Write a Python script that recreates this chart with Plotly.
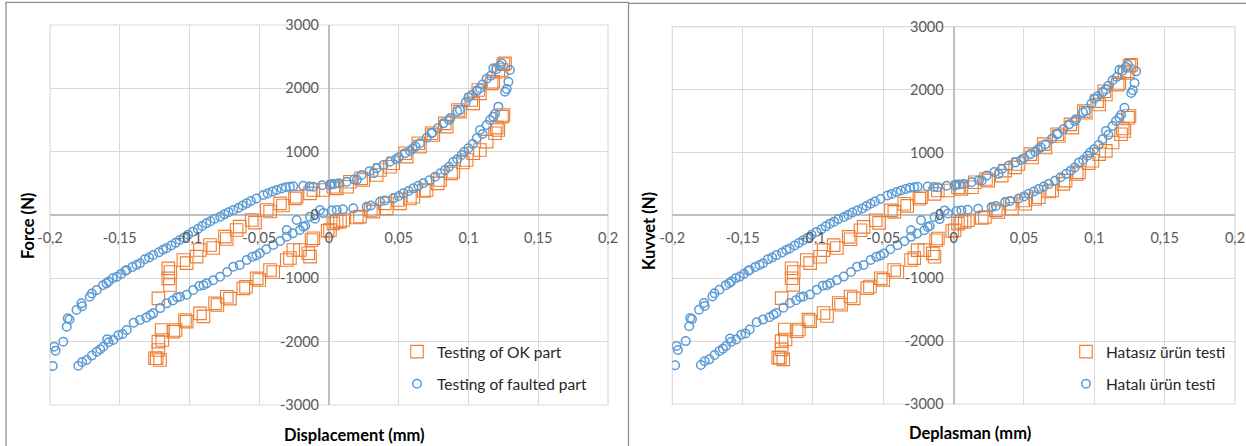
import plotly.graph_objects as go

# ---------------- data ----------------
ok_x = [-0.1223, -0.1140, -0.1152, -0.1152, -0.1137, -0.1044, -0.1020, -0.0949, -0.0925, -0.0853,
        -0.0830, -0.0746, -0.0733, -0.0662, -0.0640, -0.0554, -0.0530, -0.0446, -0.0422, -0.0351,
        -0.0330, -0.0232, -0.0244, -0.0112, -0.0136, -0.0041, 0.0031, 0.0055, 0.0130, 0.0150,
        0.0246, 0.0230, 0.0342, 0.0366, 0.0437, 0.0461, 0.0557, 0.0545, 0.0652, 0.0640,
        0.0748, 0.0736, 0.0844, 0.0830, 0.0939, 0.0925, 0.1034, 0.1020, 0.1082, 0.1070,
        0.1166, 0.1178, 0.1214, 0.1238, 0.1262, 0.1250,
        0.1250, 0.1240, 0.1214, 0.1202, 0.1190, 0.1130, 0.1082, 0.1034, 0.0987, 0.0960,
        0.0891, 0.0875, 0.0796, 0.0780, 0.0700, 0.0680, 0.0605, 0.0580, 0.0509, 0.0495,
        0.0414, 0.0400, 0.0318, 0.0300, 0.0222, 0.0200, 0.0102, 0.0079, 0.0031, 0.0055,
        0.0007, -0.0010, -0.0112, -0.0125, -0.0148, -0.0136, -0.0208, -0.0256, -0.0303, -0.0280,
        -0.0423, -0.0400, -0.0518, -0.0500, -0.0614, -0.0595, -0.0733, -0.0710, -0.0817, -0.0800,
        -0.0925, -0.0900, -0.1032, -0.1020, -0.1116, -0.1100, -0.1200, -0.1195, -0.1223, -0.1223,
        -0.1235, -0.1247, -0.1211]
ok_y = [-1316, -1105, -1000, -842, -900, -711, -760, -658, -553, -474,
        -520, -342, -380, -237, -184, -79, -120, 79, 55, 184,
        150, 289, 263, 395, 342, 395, 447, 421, 447, 526,
        553, 579, 632, 711, 763, 816, 921, 974, 1079, 1132,
        1263, 1290, 1395, 1447, 1632, 1658, 1763, 1816, 1921, 1974,
        2079, 2105, 2263, 2290, 2395, 2380,
        1579, 1553, 1342, 1380, 1290, 1158, 1026, 974, 868, 830,
        684, 658, 553, 500, 395, 380, 289, 260, 184, 237,
        105, 184, 53, 79, -26, -40, -79, -105, -132, -105,
        -237, -250, -368, -395, -605, -658, -553, -553, -711, -680,
        -868, -900, -1000, -1026, -1158, -1132, -1290, -1320, -1395, -1421,
        -1553, -1600, -1658, -1684, -1842, -1816, -1816, -1974, -2000, -2132,
        -2263, -2263, -2290]

faulted_x = [-0.1980, -0.1970, -0.1960, -0.1905, -0.1880, -0.1873, -0.1860, -0.1810, -0.1775, -0.1770,
             -0.1715, -0.1700, -0.1665, -0.1620, -0.1595, -0.1580, -0.1550, -0.1520, -0.1490, -0.1460,
             -0.1450, -0.1410, -0.1380, -0.1355, -0.1320, -0.1290, -0.1260, -0.1220, -0.1190, -0.1165,
             -0.1130, -0.1100, -0.1070, -0.1040, -0.1010, -0.0975, -0.0940, -0.0910, -0.0880, -0.0850,
             -0.0820, -0.0780, -0.0750, -0.0720, -0.0685, -0.0650, -0.0620, -0.0590, -0.0560, -0.0520,
             -0.0470, -0.0440, -0.0405, -0.0375, -0.0340, -0.0310, -0.0280, -0.0256, -0.0185, -0.0140,
             -0.0113, -0.0050, 0.0007, 0.0040, 0.0070, 0.0127, 0.0180, 0.0234, 0.0290, 0.0342,
             0.0390, 0.0437, 0.0500, 0.0545, 0.0600, 0.0652, 0.0700, 0.0736, 0.0780, 0.0820,
             0.0870, 0.0939, 0.0980, 0.1023, 0.1060, 0.1082, 0.1130, 0.1160, 0.1178, 0.1226,
             0.1238, 0.1297,
             0.0020, 0.0200, 0.0320, 0.0480, 0.0580, 0.0620, 0.0740, 0.0860, 0.0920, 0.1000,
             0.1100, 0.1200,
             0.1286, 0.1274, 0.1262, 0.1214, 0.1178, 0.1154, 0.1082, 0.1059, 0.0999, 0.0951,
             0.0891, 0.0832, 0.0760, 0.0676, 0.0605, 0.0533, 0.0461, 0.0366, 0.0270, 0.0174,
             0.0100, 0.0055, -0.0065, -0.0136, -0.0184, -0.0232, -0.0208, -0.0303, -0.0303, -0.0399,
             -0.0495, -0.0590, -0.0686, -0.0781, -0.0877, -0.0973, -0.1068, -0.1164, -0.1260, -0.1355,
             -0.1450, -0.1546, -0.1618, -0.1665, -0.1737, -0.1797,
             -0.0450, -0.0640, -0.0830, -0.1020, -0.1210, -0.1400, -0.1590, -0.1700,
             -0.1770, -0.1640, -0.1580, -0.1510, -0.1480, -0.1310, -0.1280, -0.1120, -0.1090, -0.0930,
             -0.0900, -0.0730, -0.0550, -0.0520, -0.0350, -0.0260, -0.0170, -0.0100, -0.0040, 0.0020,
             0.0300, 0.0400, 0.0500, 0.0570, 0.0640, 0.0720, 0.0800, 0.0860, 0.0920, 0.0970,
             0.1030, 0.1100, 0.1130, 0.1190]
faulted_y = [-2384, -2079, -2142, -2000, -1763, -1632, -1650, -1500, -1395, -1440,
             -1290, -1240, -1184, -1110, -1079, -1050, -1000, -974, -930, -880,
             -868, -820, -790, -763, -700, -670, -632, -590, -550, -526,
             -480, -440, -395, -360, -310, -263, -220, -175, -132, -100,
             -60, -26, 10, 45, 79, 110, 150, 184, 220, 260,
             316, 340, 370, 395, 420, 440, 447, 455, 460, 450,
             447, 470, 474, 490, 500, 526, 560, 632, 690, 737,
             790, 842, 910, 974, 1050, 1132, 1220, 1290, 1370, 1447,
             1530, 1658, 1780, 1895, 1960, 2000, 2150, 2200, 2316, 2360,
             2395, 2290,
             490, 555, 660, 880, 1010, 1080, 1300, 1500, 1640, 1860,
             2060, 2300,
             2105, 1990, 1947, 1711, 1553, 1500, 1342, 1211, 1053, 947,
             842, 711, 605, 500, 421, 342, 263, 210, 131, 105,
             90, 79, 79, -26, -184, -79, -237, -237, -342, -474,
             -605, -711, -816, -974, -1079, -1184, -1290, -1395, -1553, -1658,
             -1816, -1974, -2079, -2158, -2290, -2379,
             -540, -790, -1030, -1260, -1470, -1700, -1960, -2220,
             -2320, -2120, -2010, -1900, -1880, -1620, -1580, -1350, -1300, -1120,
             -1110, -900, -660, -640, -410, -290, -170, -60, 30, 70,
             150, 230, 300, 380, 460, 550, 660, 760, 880, 1000,
             1120, 1280, 1420, 1600]

x_tickvals = [-0.2, -0.15, -0.1, -0.05, 0, 0.05, 0.1, 0.15, 0.2]
x_ticktext = ["-0,2", "-0,15", "-0,1", "-0,05", "0", "0,05", "0,1", "0,15", "0,2"]
y_tickvals = [-3000, -2000, -1000, 0, 1000, 2000, 3000]
y_ticktext = ["-3000", "-2000", "-1000", "0", "1000", "2000", "3000"]

names_left = ["Testing of OK part", "Testing of faulted part"]
names_right = ["Hatasız ürün testi", "Hatalı ürün testi"]
titles_left = ["Displacement (mm)", "Force (N)"]
titles_right = ["Deplasman (mm)", "Kuvvet (N)"]

# ---------------- styling ----------------
W, H = 1246, 446
ORANGE = "#ED7D31"
BLUE = "#5B9BD5"
GRID = "#D9D9D9"
ZERO = "#BFBFBF"
FONT = "Lato"

def px(v):
    return v / W

def py(v):
    return 1 - v / H

dom = {
    1: dict(x=[px(50), px(608)], y=[py(405), py(25)]),
    2: dict(x=[px(672.3), px(1235)], y=[py(404), py(26.7)]),
}

fig = go.Figure()

for i, names in ((1, names_left), (2, names_right)):
    xa = "x" if i == 1 else "x2"
    ya = "y" if i == 1 else "y2"
    lg = "legend" if i == 1 else "legend2"
    fig.add_trace(go.Scatter(
        x=ok_x, y=ok_y, mode="markers", name=names[0], xaxis=xa, yaxis=ya,
        legend=lg, legendgroup=f"ok{i}",
        marker=dict(symbol="square-open", size=12.5, color=ORANGE, line=dict(width=1.1, color=ORANGE)),
    ))
    fig.add_trace(go.Scatter(
        x=faulted_x, y=faulted_y, mode="markers", name=names[1], xaxis=xa, yaxis=ya,
        legend=lg, legendgroup=f"f{i}",
        marker=dict(symbol="circle-open", size=8.5, color=BLUE, line=dict(width=1.5, color=BLUE)),
    ))

for i in (1, 2):
    d = dom[i]
    xkey = "xaxis" if i == 1 else "xaxis2"
    ykey = "yaxis" if i == 1 else "yaxis2"
    fig.update_layout(**{
        xkey: dict(
            domain=d["x"], range=[-0.2, 0.2], anchor="free",
            position=(d["y"][0] + d["y"][1]) / 2,
            tickvals=x_tickvals, ticktext=x_ticktext,
            showgrid=True, gridcolor=GRID, gridwidth=1,
            zeroline=True, zerolinecolor=ZERO, zerolinewidth=1.5,
            showline=False, ticks="", ticklabelstandoff=12,
            tickfont=dict(family=FONT, size=14.5, color="#595959"),
            automargin=False, fixedrange=True,
        ),
        ykey: dict(
            domain=d["y"], range=[-3000, 3000], anchor="free",
            position=(d["x"][0] + d["x"][1]) / 2,
            tickvals=y_tickvals, ticktext=y_ticktext,
            showgrid=True, gridcolor=GRID, gridwidth=1,
            zeroline=True, zerolinecolor=ZERO, zerolinewidth=1.5,
            showline=False, ticks="", ticklabelstandoff=10,
            tickfont=dict(family=FONT, size=14.5, color="#595959"),
            automargin=False, fixedrange=True,
        ),
    })
    xr = "x domain" if i == 1 else "x2 domain"
    yr = "y domain" if i == 1 else "y2 domain"
    fig.add_shape(type="rect", xref=xr, yref=yr, x0=0, x1=1, y0=0, y1=1,
                  line=dict(color=GRID, width=1.2), layer="below")

# outer chart frames
FRAME = "#8E8E8E"
fig.add_shape(type="rect", xref="paper", yref="paper", x0=px(6), x1=px(628.5), y0=-0.1, y1=py(2.3),
              line=dict(color=FRAME, width=1.3))
fig.add_shape(type="line", xref="paper", yref="paper", x0=px(628.5), x1=1.01, y0=py(3.3), y1=py(3.3),
              line=dict(color=FRAME, width=1.3))

# axis titles
ann = []
for (xt, yt), (xx, xy), (yx, yy) in (
    (titles_left, (354, 435), (28, 226)),
    (titles_right, (970, 433), (649, 231)),
):
    ann.append(dict(text=f"<b>{xt}</b>", x=px(xx), y=py(xy), xref="paper", yref="paper",
                    showarrow=False, xanchor="center", yanchor="middle",
                    font=dict(family=FONT, size=16.5, color="#000000")))
    ann.append(dict(text=f"<b>{yt}</b>", x=px(yx), y=py(yy), xref="paper", yref="paper",
                    showarrow=False, xanchor="center", yanchor="middle", textangle=-90,
                    font=dict(family=FONT, size=16.5, color="#000000")))

legend_style = dict(
    bgcolor="rgba(0,0,0,0)", borderwidth=0, xanchor="left", yanchor="top",
    font=dict(family=FONT, size=15.5, color="#262626"),
    tracegroupgap=9, traceorder="grouped", itemwidth=30,
)

fig.update_layout(
    width=W, height=H,
    margin=dict(l=0, r=0, t=0, b=0),
    paper_bgcolor="white", plot_bgcolor="white",
    separators=",.",
    showlegend=True,
    legend=dict(x=px(397), y=py(335), **legend_style),
    legend2=dict(x=px(1066), y=py(335), **legend_style),
    annotations=ann,
)

fig.write_html(
    "out.html",
    config={"displayModeBar": False},
    post_script="document.body.style.margin='0';document.body.style.overflow='hidden';",
)
